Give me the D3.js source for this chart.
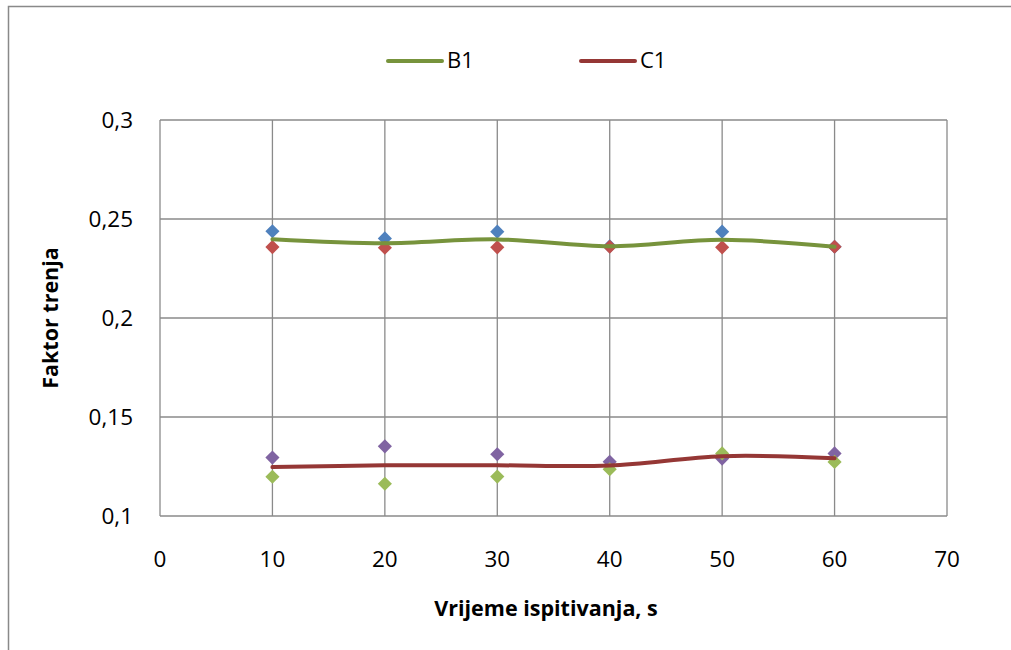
<!DOCTYPE html>
<html>
<head>
<meta charset="utf-8">
<script src="https://cdn.jsdelivr.net/npm/d3@7"></script>
<style>
  body { margin: 0; background: #fff; }
  text { font-family: "Open Sans", sans-serif; fill: #000; }
</style>
</head>
<body>
<div id="graph"></div>
<script>
// time points, s
const times = [10, 20, 30, 40, 50, 60];
// mean lines
const b1 = [0.2398, 0.2378, 0.2397, 0.2362, 0.2395, 0.2360];
const c1 = [0.1247, 0.1256, 0.1256, 0.1255, 0.1302, 0.1292];
// individual measurements
const b1Upper = [0.2438, 0.2402, 0.2436, 0.2362, 0.2436, 0.2360];
const b1Lower = [0.2358, 0.2355, 0.2357, 0.2360, 0.2357, 0.2360];
const c1Upper = [0.1295, 0.1352, 0.1312, 0.1274, 0.1290, 0.1316];
const c1Lower = [0.1198, 0.1163, 0.1199, 0.1236, 0.1316, 0.1273];
const xTicks = [0, 10, 20, 30, 40, 50, 60, 70];
const yTicks = [0.1, 0.15, 0.2, 0.25, 0.3];

const width = 1011, height = 650;
const padLeft = 160, padRight = 947, padTop = 120, padBottom = 516;

const svg = d3.select("#graph").append("svg").attr("width", width).attr("height", height);

// outer frame
svg.append("rect").attr("x", 8.5).attr("y", 6.5).attr("width", 1100).attr("height", 700)
  .attr("fill", "none").attr("stroke", "#898989").attr("stroke-width", 1.5);

let x = d3.scaleLinear().domain([0, 70]).range([padLeft, padRight]);
let y = d3.scaleLinear().domain([0.1, 0.3]).range([padBottom, padTop]);
const fmt = d => String(d).replace(".", ",");

// grid
svg.append("g").selectAll("line").data(yTicks).enter().append("line")
  .attr("x1", padLeft).attr("x2", padRight)
  .attr("y1", d => y(d)).attr("y2", d => y(d))
  .attr("stroke", "#8a8a8a").attr("stroke-width", 1.3);
svg.append("g").selectAll("line").data(xTicks).enter().append("line")
  .attr("x1", d => x(d)).attr("x2", d => x(d))
  .attr("y1", padTop).attr("y2", padBottom)
  .attr("stroke", "#8a8a8a").attr("stroke-width", 1.3);

// tick labels
svg.append("g").selectAll("text").data(yTicks).enter().append("text")
  .attr("x", 133).attr("y", d => y(d)).attr("dy", "0.36em")
  .attr("text-anchor", "end").style("font-size", "22.5px").text(fmt);
svg.append("g").selectAll("text").data(xTicks).enter().append("text")
  .attr("x", d => x(d)).attr("y", 559).attr("dy", "0.36em")
  .attr("text-anchor", "middle").style("font-size", "22.5px").text(fmt);

// axis titles
svg.append("text").attr("x", 546).attr("y", 608).attr("dy", "0.36em")
  .attr("text-anchor", "middle").style("font-size", "21.5px").style("font-weight", "bold")
  .text("Vrijeme ispitivanja, s");
svg.append("text").attr("transform", "translate(50,318) rotate(-90)").attr("dy", "0.36em")
  .attr("text-anchor", "middle").style("font-size", "21.5px").style("font-weight", "bold")
  .text("Faktor trenja");

// markers
const diamond = d3.symbol().type(d3.symbolSquare).size(100);
function markers(vals, color) {
  svg.append("g").selectAll("path").data(vals).enter().append("path")
    .attr("d", diamond)
    .attr("transform", (d, i) => "translate(" + x(times[i]) + "," + y(d) + ") rotate(45)")
    .attr("fill", color);
}
markers(b1Upper, "#4f81bd");
markers(b1Lower, "#c0504d");
markers(c1Upper, "#8064a2");
markers(c1Lower, "#9bbb59");

// lines
const line = d3.line().x((d, i) => x(times[i])).y(d => y(d)).curve(d3.curveCardinal.tension(0));
svg.append("path").datum(b1).attr("d", line).attr("fill", "none")
  .attr("stroke", "#77933c").attr("stroke-width", 4).attr("stroke-linecap", "round");
svg.append("path").datum(c1).attr("d", line).attr("fill", "none")
  .attr("stroke", "#953735").attr("stroke-width", 4).attr("stroke-linecap", "round");

// legend
const legend = [{name: "B1", color: "#77933c", x: 388}, {name: "C1", color: "#953735", x: 581}];
legend.forEach(l => {
  svg.append("line").attr("x1", l.x).attr("x2", l.x + 54).attr("y1", 61).attr("y2", 61)
    .attr("stroke", l.color).attr("stroke-width", 4).attr("stroke-linecap", "round");
  svg.append("text").attr("x", l.x + 59).attr("y", 60).attr("dy", "0.36em")
    .style("font-size", "22px").text(l.name);
});
</script>
</body>
</html>
